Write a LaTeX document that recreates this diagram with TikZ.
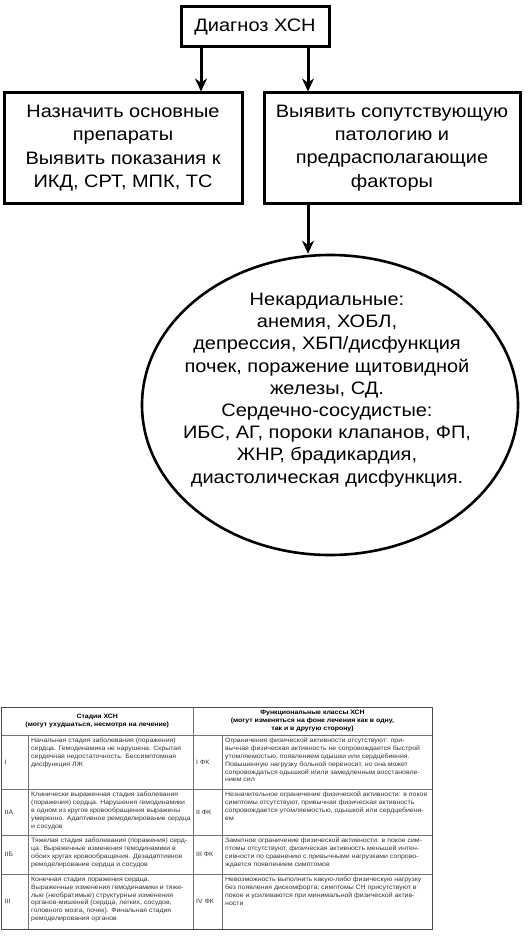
\documentclass[tikz,border=0pt]{standalone}
\usepackage{fontspec}
\setmainfont{Liberation Sans}
\newfontfamily\chartfont[FakeStretch=1.11]{Liberation Sans}
\newfontfamily\tabfont[FakeStretch=1.1]{Liberation Sans}
\usetikzlibrary{shapes.geometric, arrows.meta, calc}

\begin{document}
\begin{tikzpicture}[x=1pt,y=-1pt,
  box/.style={draw, line width=3pt, align=center, inner sep=0pt,
    font=\chartfont\fontsize{18}{23.3}\selectfont},
  arr/.style={line width=3pt, -{Stealth[length=13pt,width=12pt]}},
  cell/.style={anchor=north west, align=left, inner sep=0pt,
    font=\tabfont\fontsize{6.3}{7.8}\selectfont, text=black!80},
  lab/.style={anchor=west, inner sep=0pt, font=\tabfont\fontsize{6.3}{7.8}\selectfont, text=black!80},
  head/.style={align=center, inner sep=0pt, font=\tabfont\fontsize{6.3}{7.8}\selectfont\bfseries}]
\useasboundingbox (0,0) rectangle (531,936);

% flowchart
\node[box, minimum width=148, minimum height=40] (diag) at (255,27) {Диагноз ХСН};
\node[box, minimum width=238, minimum height=110] (drugs) at (123,148)
  {Назначить основные\\препараты\\Выявить показания к\\ИКД, СРТ, МПК, ТС};
\node[box, minimum width=256, minimum height=110] (comorb) at (392,148)
  {Выявить сопутствующую\\патологию и\\предрасполагающие\\факторы};
\node[ellipse, draw, line width=2.6pt, inner sep=0pt,
  minimum width=376, minimum height=300] (factors) at (330,405) {};
\node[align=center, inner sep=0pt, font=\chartfont\fontsize{18}{22.2}\selectfont] (factorstext) at (327,390)
  {Некардиальные:\\анемия, ХОБЛ,\\депрессия, ХБП/дисфункция\\почек, поражение щитовидной\\железы, СД.\\
   Сердечно-сосудистые:\\ИБС, АГ, пороки клапанов, ФП,\\ЖНР, брадикардия,\\диастолическая дисфункция.};

\draw[arr] ([xshift=-54]diag.south) -- ([xshift=-54]diag.south |- drugs.north);
\draw[arr] ([xshift=53]diag.south) -- ([xshift=53]diag.south |- comorb.north);
\draw[arr] ([xshift=-84]comorb.south) -- ([xshift=-84]comorb.south |- factors.north);

% table
\def\tL{1.5}
\def\tA{28}
\def\tB{193}
\def\tC{222}
\def\tR{432}
\def\rH{707}
\def\rA{735}
\def\rB{789}
\def\rC{835}
\def\rD{874}
\def\rE{929}

\foreach \y in {\rA,\rB,\rC,\rD}
  \draw[black!55, line width=0.6pt] (\tL,\y) -- (\tR,\y);
\foreach \x in {\tA,\tC}
  \draw[black!55, line width=0.6pt] (\x,\rA) -- (\x,\rE);
\draw[black!55, line width=0.6pt] (\tB,\rH) -- (\tB,\rE);
\draw[black!70, line width=0.7pt] (\tL,\rH) rectangle (\tR,\rE);

\node[head] (hstage) at ({(\tL+\tB)/2},{(\rH+\rA)/2}) {Стадии ХСН\\(могут ухудшаться, несмотря на лечение)};
\node[head] (hclass) at ({(\tB+\tR)/2},{(\rH+\rA)/2})
  {Функциональные классы ХСН\\(могут изменяться на фоне лечения как в одну,\\так и в другую сторону)};

\node[lab] (st1) at (\tL+3,{(\rA+\rB)/2}) {I};
\node[lab] (st2) at (\tL+3,{(\rB+\rC)/2}) {IIА};
\node[lab] (st3) at (\tL+3,{(\rC+\rD)/2}) {IIБ};
\node[lab] (st4) at (\tL+3,{(\rD+\rE)/2}) {III};
\node[lab] (fk1) at (\tB+3,{(\rA+\rB)/2}) {I ФК};
\node[lab] (fk2) at (\tB+3,{(\rB+\rC)/2}) {II ФК};
\node[lab] (fk3) at (\tB+3,{(\rC+\rD)/2}) {III ФК};
\node[lab] (fk4) at (\tB+3,{(\rD+\rE)/2}) {IV ФК};

\node[cell] (d1) at (\tA+3,\rA+3) {Начальная стадия заболевания (поражения)\\сердца. Гемодинамика не нарушена. Скрытая\\
  сердечная недостаточность. Бессимптомная\\дисфункция ЛЖ};
\node[cell] (d2) at (\tA+3,\rB+3) {Клинически выраженная стадия заболевания\\(поражения) сердца. Нарушения гемодинамики\\
  в одном из кругов кровообращения выражены\\умеренно. Адаптивное ремоделирование сердца\\и сосудов};
\node[cell] (d3) at (\tA+3,\rC+3) {Тяжелая стадия заболевания (поражения) серд-\\ца. Выраженные изменения гемодинамики в\\
  обоих кругах кровообращения. Дезадаптивное\\ремоделирование сердца и сосудов};
\node[cell] (d4) at (\tA+3,\rD+3) {Конечная стадия поражения сердца.\\Выраженные изменения гемодинамики и тяже-\\
  лые (необратимые) структурные изменения\\органов-мишеней (сердца, легких, сосудов,\\
  головного мозга, почек). Финальная стадия\\ремоделирования органов};

\node[cell] (f1) at (\tC+3,\rA+3) {Ограничения физической активности отсутствуют: при-\\
  вычная физическая активность не сопровождается быстрой\\утомляемостью, появлением одышки или сердцебиения.\\
  Повышенную нагрузку больной переносит, но она может\\сопровождаться одышкой и/или замедленным восстановле-\\нием сил};
\node[cell] (f2) at (\tC+3,\rB+3) {Незначительное ограничение физической активности: в покое\\
  симптомы отсутствуют, привычная физическая активность\\сопровождается утомляемостью, одышкой или сердцебиени-\\ем};
\node[cell] (f3) at (\tC+3,\rC+3) {Заметное ограничение физической активности: в покое сим-\\
  птомы отсутствуют, физическая активность меньшей интен-\\сивности по сравнению с  привычными нагрузками сопрово-\\
  ждается появлением симптомов};
\node[cell] (f4) at (\tC+3,\rD+3) {Невозможность выполнить какую-либо физическую нагрузку\\
  без появления дискомфорта; симптомы СН присутствуют в\\покое и усиливаются при минимальной физической актив-\\ности};
\end{tikzpicture}
\end{document}
